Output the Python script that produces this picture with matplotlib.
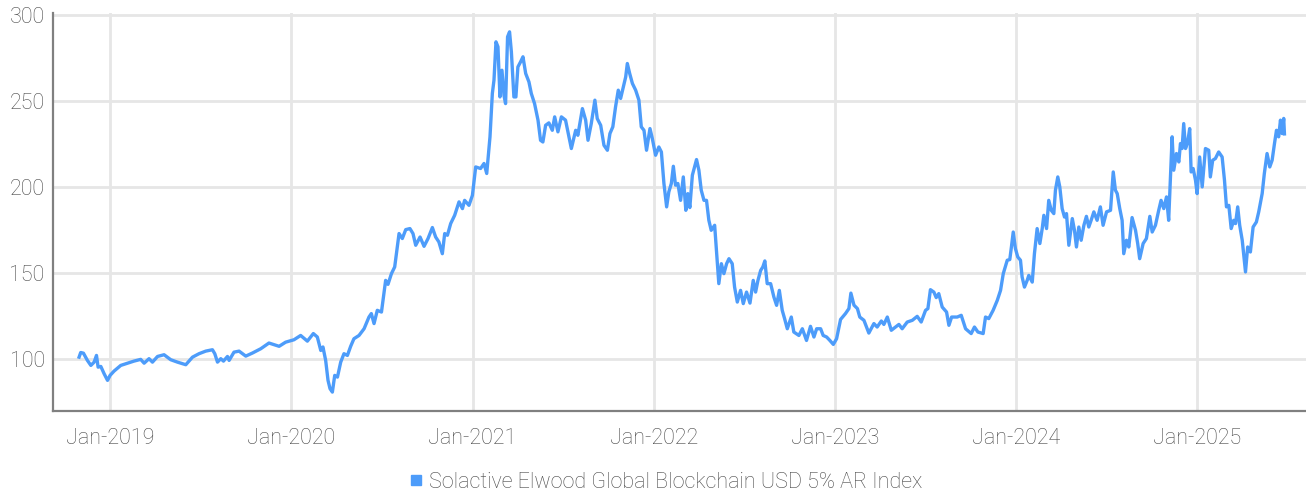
import numpy as np
import pandas as pd
import matplotlib
matplotlib.use("Agg")
import matplotlib.pyplot as plt
import matplotlib.dates as mdates
from matplotlib.lines import Line2D

# Решение: данные (время в долях года, значение индекса)
years = [
    2018.829, 2018.838, 2018.853, 2018.875, 2018.894, 2018.912, 2018.925, 2018.934, 2018.949, 2018.967,
    2018.986, 2019.000, 2019.022, 2019.059, 2019.096, 2019.132, 2019.169, 2019.188, 2019.215, 2019.234,
    2019.262, 2019.298, 2019.335, 2019.372, 2019.418, 2019.455, 2019.491, 2019.528, 2019.565, 2019.578,
    2019.593, 2019.611, 2019.626, 2019.648, 2019.657, 2019.684, 2019.712, 2019.749, 2019.786, 2019.832,
    2019.877, 2019.933, 2019.969, 2020.015, 2020.052, 2020.089, 2020.122, 2020.144, 2020.163, 2020.175,
    2020.190, 2020.203, 2020.214, 2020.227, 2020.240, 2020.255, 2020.273, 2020.291, 2020.310, 2020.328,
    2020.346, 2020.374, 2020.402, 2020.429, 2020.442, 2020.457, 2020.475, 2020.498, 2020.521, 2020.534,
    2020.553, 2020.571, 2020.595, 2020.613, 2020.632, 2020.655, 2020.672, 2020.687, 2020.711, 2020.733,
    2020.755, 2020.779, 2020.797, 2020.815, 2020.834, 2020.847, 2020.862, 2020.880, 2020.902, 2020.926,
    2020.945, 2020.957, 2020.981, 2021.000, 2021.018, 2021.045, 2021.064, 2021.079, 2021.097, 2021.110,
    2021.119, 2021.130, 2021.141, 2021.152, 2021.163, 2021.174, 2021.183, 2021.194, 2021.205, 2021.215,
    2021.229, 2021.240, 2021.251, 2021.266, 2021.279, 2021.294, 2021.312, 2021.325, 2021.343, 2021.362,
    2021.376, 2021.389, 2021.404, 2021.422, 2021.441, 2021.454, 2021.472, 2021.491, 2021.514, 2021.527,
    2021.546, 2021.570, 2021.582, 2021.607, 2021.625, 2021.638, 2021.656, 2021.676, 2021.689, 2021.708,
    2021.726, 2021.745, 2021.759, 2021.775, 2021.790, 2021.805, 2021.818, 2021.831, 2021.846, 2021.855,
    2021.868, 2021.883, 2021.901, 2021.919, 2021.932, 2021.947, 2021.961, 2021.980, 2021.993, 2022.011,
    2022.029, 2022.043, 2022.057, 2022.072, 2022.084, 2022.098, 2022.109, 2022.121, 2022.134, 2022.149,
    2022.164, 2022.178, 2022.189, 2022.200, 2022.214, 2022.226, 2022.237, 2022.250, 2022.263, 2022.278,
    2022.292, 2022.305, 2022.318, 2022.337, 2022.348, 2022.360, 2022.374, 2022.388, 2022.403, 2022.416,
    2022.434, 2022.447, 2022.462, 2022.480, 2022.495, 2022.513, 2022.532, 2022.550, 2022.563, 2022.576,
    2022.591, 2022.603, 2022.614, 2022.627, 2022.646, 2022.664, 2022.679, 2022.694, 2022.710, 2022.723,
    2022.738, 2022.760, 2022.774, 2022.802, 2022.821, 2022.844, 2022.866, 2022.885, 2022.900, 2022.922,
    2022.936, 2022.955, 2022.973, 2022.992, 2023.010, 2023.032, 2023.059, 2023.078, 2023.089, 2023.106,
    2023.125, 2023.138, 2023.161, 2023.188, 2023.216, 2023.234, 2023.257, 2023.271, 2023.290, 2023.312,
    2023.336, 2023.354, 2023.372, 2023.400, 2023.428, 2023.455, 2023.477, 2023.501, 2023.514, 2023.528,
    2023.547, 2023.560, 2023.574, 2023.593, 2023.617, 2023.630, 2023.645, 2023.676, 2023.698, 2023.722,
    2023.753, 2023.771, 2023.790, 2023.819, 2023.832, 2023.850, 2023.874, 2023.897, 2023.915, 2023.930,
    2023.942, 2023.952, 2023.966, 2023.975, 2023.985, 2023.997, 2024.010, 2024.025, 2024.034, 2024.047,
    2024.062, 2024.071, 2024.090, 2024.102, 2024.117, 2024.132, 2024.145, 2024.154, 2024.169, 2024.181,
    2024.195, 2024.209, 2024.218, 2024.231, 2024.242, 2024.255, 2024.268, 2024.279, 2024.292, 2024.311,
    2024.323, 2024.334, 2024.347, 2024.360, 2024.375, 2024.389, 2024.402, 2024.415, 2024.430, 2024.448,
    2024.466, 2024.481, 2024.500, 2024.522, 2024.537, 2024.549, 2024.559, 2024.573, 2024.586, 2024.595,
    2024.610, 2024.623, 2024.641, 2024.660, 2024.672, 2024.683, 2024.702, 2024.720, 2024.739, 2024.752,
    2024.770, 2024.788, 2024.801, 2024.816, 2024.831, 2024.843, 2024.853, 2024.862, 2024.871, 2024.886,
    2024.899, 2024.908, 2024.917, 2024.926, 2024.936, 2024.948, 2024.959, 2024.967, 2024.978, 2024.991,
    2025.000, 2025.014, 2025.028, 2025.046, 2025.064, 2025.073, 2025.086, 2025.101, 2025.119, 2025.138,
    2025.151, 2025.162, 2025.175, 2025.188, 2025.202, 2025.212, 2025.224, 2025.235, 2025.249, 2025.267,
    2025.279, 2025.294, 2025.309, 2025.327, 2025.340, 2025.359, 2025.371, 2025.386, 2025.401, 2025.414,
    2025.427, 2025.438, 2025.450, 2025.460, 2025.469, 2025.478, 2025.482,
]
values = [
    101.3, 104.0, 103.6, 99.4, 96.5, 98.4, 102.3, 95.5, 95.9, 91.7,
    87.8, 90.7, 93.2, 96.5, 97.8, 99.0, 100.0, 97.8, 100.4, 98.4,
    101.7, 102.7, 99.8, 98.4, 96.9, 101.3, 103.3, 104.8, 105.6, 103.3,
    98.4, 100.4, 99.0, 101.7, 99.4, 104.2, 104.8, 101.9, 103.7, 106.2,
    109.5, 107.6, 110.0, 111.4, 113.9, 110.6, 115.0, 113.0, 105.2, 107.2,
    99.4, 87.8, 83.0, 81.0, 90.7, 89.7, 98.4, 103.3, 102.3, 107.6,
    112.0, 113.9, 117.8, 124.6, 126.6, 120.8, 128.5, 127.5, 145.9, 143.6,
    149.8, 153.7, 173.1, 170.2, 175.4, 176.0, 173.1, 166.3, 171.1, 165.7,
    170.2, 176.6, 171.1, 168.2, 161.4, 173.1, 172.1, 178.9, 183.7, 191.5,
    187.6, 192.4, 189.5, 195.3, 211.8, 210.9, 213.8, 208.0, 229.3, 254.5,
    262.2, 284.5, 281.6, 252.5, 268.0, 253.5, 248.6, 287.4, 290.3, 278.7,
    252.5, 252.5, 269.9, 272.9, 275.8, 266.1, 261.2, 254.5, 248.6, 239.0,
    227.3, 226.3, 236.0, 237.4, 233.1, 240.9, 232.2, 240.9, 239.0, 232.2,
    222.5, 233.1, 230.2, 245.7, 239.0, 227.3, 237.0, 250.6, 239.9, 236.0,
    224.4, 221.5, 231.2, 235.1, 246.7, 256.4, 251.6, 257.4, 264.1, 271.9,
    266.1, 260.3, 256.4, 250.6, 235.1, 233.1, 221.5, 234.1, 228.3, 218.6,
    223.4, 220.5, 202.2, 188.6, 197.3, 202.2, 212.2, 201.2, 202.2, 192.4,
    206.0, 186.6, 196.3, 188.2, 207.0, 211.8, 216.1, 209.9, 198.3, 192.4,
    192.4, 180.8, 175.0, 177.9, 161.4, 144.0, 155.6, 149.8, 155.6, 158.5,
    155.6, 142.0, 133.3, 140.1, 132.4, 139.1, 132.7, 145.9, 139.1, 145.9,
    151.7, 153.7, 157.2, 144.0, 144.0, 136.2, 131.4, 140.1, 128.5, 123.7,
    117.8, 124.6, 115.9, 113.9, 117.8, 111.0, 119.2, 113.0, 117.8, 117.8,
    113.9, 113.0, 111.0, 108.7, 112.0, 123.2, 126.6, 129.5, 138.5, 131.5,
    129.5, 124.6, 122.7, 115.3, 120.8, 118.8, 122.3, 120.3, 124.6, 116.9,
    118.8, 120.3, 117.8, 121.7, 122.7, 125.0, 121.7, 128.5, 129.5, 140.5,
    139.1, 135.9, 138.2, 130.4, 127.5, 119.8, 124.6, 124.6, 125.6, 117.8,
    115.0, 118.8, 115.9, 115.0, 124.6, 123.7, 128.5, 134.3, 140.1, 149.8,
    154.1, 157.6, 158.0, 165.3, 174.0, 164.4, 159.5, 157.6, 147.9, 142.0,
    145.9, 148.8, 144.9, 161.4, 176.0, 167.3, 176.0, 183.7, 176.0, 192.4,
    186.6, 184.7, 198.3, 206.0, 200.2, 187.6, 182.7, 184.7, 166.3, 181.8,
    175.0, 165.3, 176.9, 169.2, 177.9, 183.1, 176.9, 180.8, 185.7, 180.8,
    188.6, 177.9, 185.7, 186.6, 208.9, 198.3, 196.3, 187.6, 180.8, 161.4,
    169.2, 165.3, 182.4, 175.0, 167.3, 158.5, 167.3, 170.2, 183.1, 174.0,
    177.9, 186.6, 192.4, 187.6, 194.4, 180.8, 206.0, 229.3, 209.9, 219.6,
    214.7, 225.4, 222.5, 237.0, 222.5, 226.3, 234.1, 208.9, 210.9, 204.1,
    196.3, 217.6, 200.2, 222.5, 221.5, 206.0, 215.7, 216.7, 220.5, 217.6,
    204.1, 188.6, 189.5, 176.0, 180.8, 178.9, 188.6, 177.9, 169.2, 150.8,
    165.3, 162.4, 176.9, 179.8, 185.7, 196.3, 208.0, 219.6, 211.8, 215.7,
    225.4, 233.1, 229.3, 239.0, 231.2, 240.0, 231.0,
]
year_ticks = [2019, 2020, 2021, 2022, 2023, 2024, 2025]
y_ticks = [100, 150, 200, 250, 300]
series_name = "Solactive Elwood Global Blockchain USD 5% AR Index"

LINE_COLOR = "#4d9cfa"
GRID_COLOR = "#e6e6e6"
TEXT_COLOR = "#484848"

plt.rcParams["font.family"] = ["Roboto", "DejaVu Sans"]

yrs = np.array(years)
dates = pd.Timestamp("2019-01-01") + pd.to_timedelta((yrs - 2019) * 365.25, unit="D")

fig = plt.figure(figsize=(13.06, 4.97), dpi=100)
ax = fig.add_axes([0.0406, 0.173, 0.9594, 0.800])

ax.plot(dates, values, color=LINE_COLOR, lw=2.4, solid_joinstyle="round")

ax.set_ylim(70, 301)
ax.set_xlim(pd.Timestamp("2018-09-08"), pd.Timestamp("2025-08-08"))
ax.set_yticks(y_ticks)
ax.set_xticks([pd.Timestamp(f"{y}-01-01") for y in year_ticks])
ax.xaxis.set_major_formatter(mdates.DateFormatter("%b-%Y"))

ax.grid(True, color=GRID_COLOR, lw=2.0)
ax.set_axisbelow(True)
for side in ["top", "right"]:
    ax.spines[side].set_visible(False)
for side in ["left", "bottom"]:
    ax.spines[side].set_color("#808080")
    ax.spines[side].set_linewidth(1.6)

ax.tick_params(axis="both", length=0, labelsize=15.5, labelcolor=TEXT_COLOR)
ax.tick_params(axis="y", pad=6)
ax.tick_params(axis="x", pad=12)
for lab in ax.get_xticklabels() + ax.get_yticklabels():
    lab.set_fontweight("light")

handle = Line2D([], [], marker="s", ls="none", color=LINE_COLOR, markersize=7)
leg = fig.legend([handle], [series_name], loc="center", bbox_to_anchor=(0.51, 0.03),
                 frameon=False, handlelength=0.6, handletextpad=0.3,
                 prop={"size": 15.5, "weight": "light"})
for t in leg.get_texts():
    t.set_color(TEXT_COLOR)

fig.savefig("out.png", dpi=100)
